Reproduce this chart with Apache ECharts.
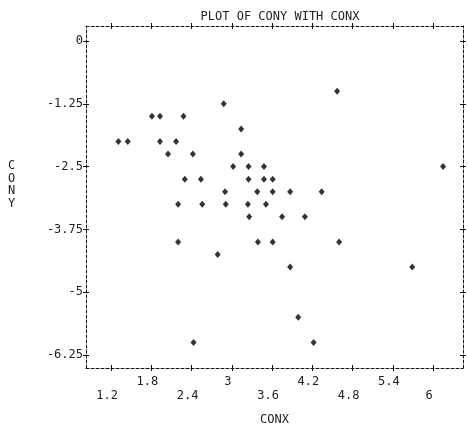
<!DOCTYPE html>
<html>
<head>
<meta charset="utf-8">
<script src="https://cdn.jsdelivr.net/npm/echarts@6/dist/echarts.min.js"></script>
<style>
html,body{margin:0;padding:0;background:#fff}
#main{width:468px;height:424px}
</style>
</head>
<body>
<div id="main"></div>
<script>
// values
var conx = [4.57, 2.88, 1.81, 1.93, 2.28, 3.14, 1.31, 1.45, 1.93, 2.17,
            2.05, 2.42, 3.14, 3.02, 3.25, 3.48, 6.15, 2.30, 2.54, 3.25,
            3.48, 3.61, 2.90, 3.38, 3.61, 3.87, 4.34, 2.20, 2.56, 2.91,
            3.24, 3.51, 3.26, 3.75, 4.09, 2.20, 3.39, 3.61, 4.60, 2.79,
            3.87, 5.69, 3.99, 2.43, 4.22];
var cony = [-1.0, -1.25, -1.5, -1.5, -1.5, -1.75, -2.0, -2.0, -2.0, -2.0,
            -2.25, -2.25, -2.25, -2.5, -2.5, -2.5, -2.5, -2.75, -2.75, -2.75,
            -2.75, -2.75, -3.0, -3.0, -3.0, -3.0, -3.0, -3.25, -3.25, -3.25,
            -3.25, -3.25, -3.5, -3.5, -3.5, -4.0, -4.0, -4.0, -4.0, -4.25,
            -4.5, -4.5, -5.5, -6.0, -6.0];
var xTicks = [1.2, 1.8, 2.4, 3, 3.6, 4.2, 4.8, 5.4, 6];
var yTicks = [0, -1.25, -2.5, -3.75, -5, -6.25];

var font = 'DejaVu Sans Mono';
var frame = {color: '#111', width: 1, type: [3, 2]};
var XMIN = 0.827, XMAX = 6.447, YMIN = -6.509, YMAX = 0.299;

function xAx(pos, inside, withLine, withLabels) {
  return {
    type: 'value', position: pos, min: XMIN, max: XMAX,
    splitLine: {show: false},
    axisLine: {show: withLine, onZero: false, lineStyle: frame},
    axisTick: {show: true, inside: inside, length: 3, customValues: xTicks,
               lineStyle: {color: '#111', width: 1}},
    axisLabel: withLabels ? {
      show: true, customValues: xTicks, margin: 7,
      fontFamily: font, fontSize: 12, color: '#222', lineHeight: 14,
      padding: [0, 8, 0, 0],
      formatter: function (v) {
        var i = xTicks.indexOf(v);
        return i % 2 === 0 ? ' \n' + v : String(v);
      }
    } : {show: false},
    name: withLabels ? 'CONX' : '',
    nameLocation: 'middle', nameGap: 46,
    nameTextStyle: {fontFamily: font, fontSize: 12, color: '#222'}
  };
}

function yAx(pos, inside, withLine, withLabels) {
  return {
    type: 'value', position: pos, min: YMIN, max: YMAX,
    splitLine: {show: false},
    axisLine: {show: withLine, onZero: false, lineStyle: frame},
    axisTick: {show: true, inside: inside, length: 3, customValues: yTicks,
               lineStyle: {color: '#111', width: 1}},
    axisLabel: withLabels ? {
      show: true, customValues: yTicks, margin: 3,
      fontFamily: font, fontSize: 12, color: '#222'
    } : {show: false}
  };
}

var chart = echarts.init(document.getElementById('main'));
chart.setOption({
  animation: false,
  backgroundColor: '#fff',
  title: {
    text: 'PLOT OF CONY WITH CONX',
    left: 275, top: 6, textAlign: 'center',
    textStyle: {fontFamily: font, fontSize: 12, fontWeight: 'normal', color: '#222'}
  },
  graphic: [{
    type: 'text', left: 8, top: 160,
    style: {text: 'C\nO\nN\nY', font: '12px ' + font, fill: '#222', lineHeight: 12.5}
  }],
  grid: {left: 86, right: 5, top: 26, bottom: 56, containLabel: false, outerBoundsMode: 'none'},
  xAxis: [
    xAx('bottom', false, true, true),
    xAx('bottom', true, false, false),
    xAx('top', false, true, false),
    xAx('top', true, false, false)
  ],
  yAxis: [
    yAx('left', false, true, true),
    yAx('left', true, false, false),
    yAx('right', false, true, false),
    yAx('right', true, false, false)
  ],
  series: [{
    type: 'scatter',
    symbol: 'diamond',
    symbolSize: [6, 7],
    itemStyle: {color: '#000'},
    data: conx.map(function (x, i) { return [x, cony[i]]; })
  }]
});
</script>
</body>
</html>
